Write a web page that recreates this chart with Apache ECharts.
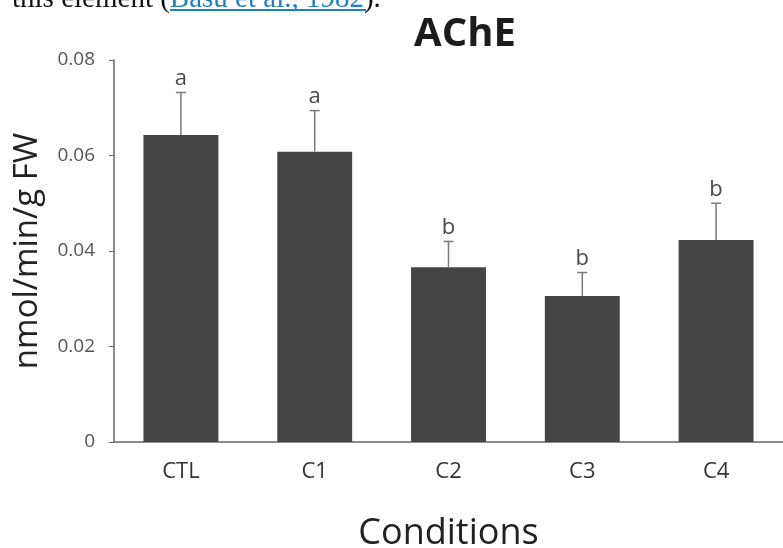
<!DOCTYPE html>
<html>
<head>
<meta charset="utf-8">
<script src="https://cdn.jsdelivr.net/npm/echarts@6/dist/echarts.min.js"></script>
<style>
  html, body { margin: 0; padding: 0; background: #fff; }
  #chart { width: 783px; height: 548px; }
</style>
</head>
<body>
<div id="chart"></div>
<script>
// Data
const conditions = ['CTL', 'C1', 'C2', 'C3', 'C4'];
const means = [0.0643, 0.0608, 0.0366, 0.0306, 0.0423];
const errors = [0.0089, 0.0086, 0.0054, 0.0049, 0.0077];
const letters = ['a', 'a', 'b', 'b', 'b'];

const chart = echarts.init(document.getElementById('chart'));

const font = '"Open Sans", "Noto Sans", sans-serif';

// Error bars with significance letters on top
function renderErrorBar(params, api) {
  const i = api.value(0);
  const top = api.coord([i, api.value(1) + api.value(2)]);
  const base = api.coord([i, api.value(1)]);
  const lineStyle = { stroke: '#7a7a7a', lineWidth: 1.5 };
  return {
    type: 'group',
    children: [
      { type: 'line', shape: { x1: base[0], y1: base[1], x2: top[0], y2: top[1] }, style: lineStyle },
      { type: 'line', shape: { x1: top[0] - 5, y1: top[1], x2: top[0] + 5, y2: top[1] }, style: lineStyle },
      {
        type: 'text',
        x: top[0],
        y: top[1] - 14,
        style: {
          text: letters[i],
          fill: '#4a4a4a',
          font: '22px ' + font,
          align: 'center',
          verticalAlign: 'middle'
        }
      }
    ]
  };
}

const option = {
  backgroundColor: '#fff',
  animation: false,
  title: {
    text: 'AChE',
    left: 460,
    top: 10,
    textAlign: 'center',
    textStyle: { fontFamily: font, fontSize: 40, fontWeight: 'bold', color: '#1c1c1c' }
  },
  graphic: [
    {
      type: 'text',
      left: 12,
      top: -15,
      style: {
        text: '{n|this element (}{l|Basu et al., 1982}{n|).}',
        rich: {
          n: { fontFamily: '"Liberation Serif", serif', fontSize: 29, fill: '#111' },
          l: { fontFamily: '"Liberation Serif", serif', fontSize: 29, fill: '#1f7fc4' }
        }
      }
    },
    {
      type: 'line',
      shape: { x1: 170, y1: 10, x2: 366, y2: 10 },
      style: { stroke: '#1f7fc4', lineWidth: 2 }
    }
  ],
  grid: { left: 114, right: 0, top: 60, bottom: 106, outerBoundsMode: 'none' },
  xAxis: {
    type: 'category',
    data: conditions,
    name: 'Conditions',
    nameLocation: 'middle',
    nameGap: 74,
    nameTextStyle: { fontFamily: font, fontSize: 36, color: '#222', verticalAlign: 'top' },
    axisLine: { lineStyle: { color: '#666', width: 1.5 } },
    axisTick: { show: false },
    axisLabel: { fontFamily: font, fontSize: 22, color: '#333', margin: 19 }
  },
  yAxis: {
    type: 'value',
    min: 0,
    max: 0.08,
    interval: 0.02,
    name: 'nmol/min/g FW',
    nameLocation: 'middle',
    nameRotate: 90,
    nameGap: 70,
    nameTextStyle: { fontFamily: font, fontSize: 33, color: '#222' },
    axisLine: { show: true, lineStyle: { color: '#666', width: 1.5 } },
    axisTick: { show: true, length: 5, lineStyle: { color: '#666' } },
    splitLine: { show: false },
    axisLabel: { fontFamily: font, fontSize: 19, color: '#555', margin: 19 }
  },
  series: [
    {
      type: 'bar',
      data: means,
      barWidth: '56%',
      itemStyle: { color: '#454545' }
    },
    {
      type: 'custom',
      renderItem: renderErrorBar,
      data: conditions.map((c, i) => [i, means[i], errors[i]]),
      z: 5
    }
  ]
};

chart.setOption(option);
</script>
</body>
</html>
